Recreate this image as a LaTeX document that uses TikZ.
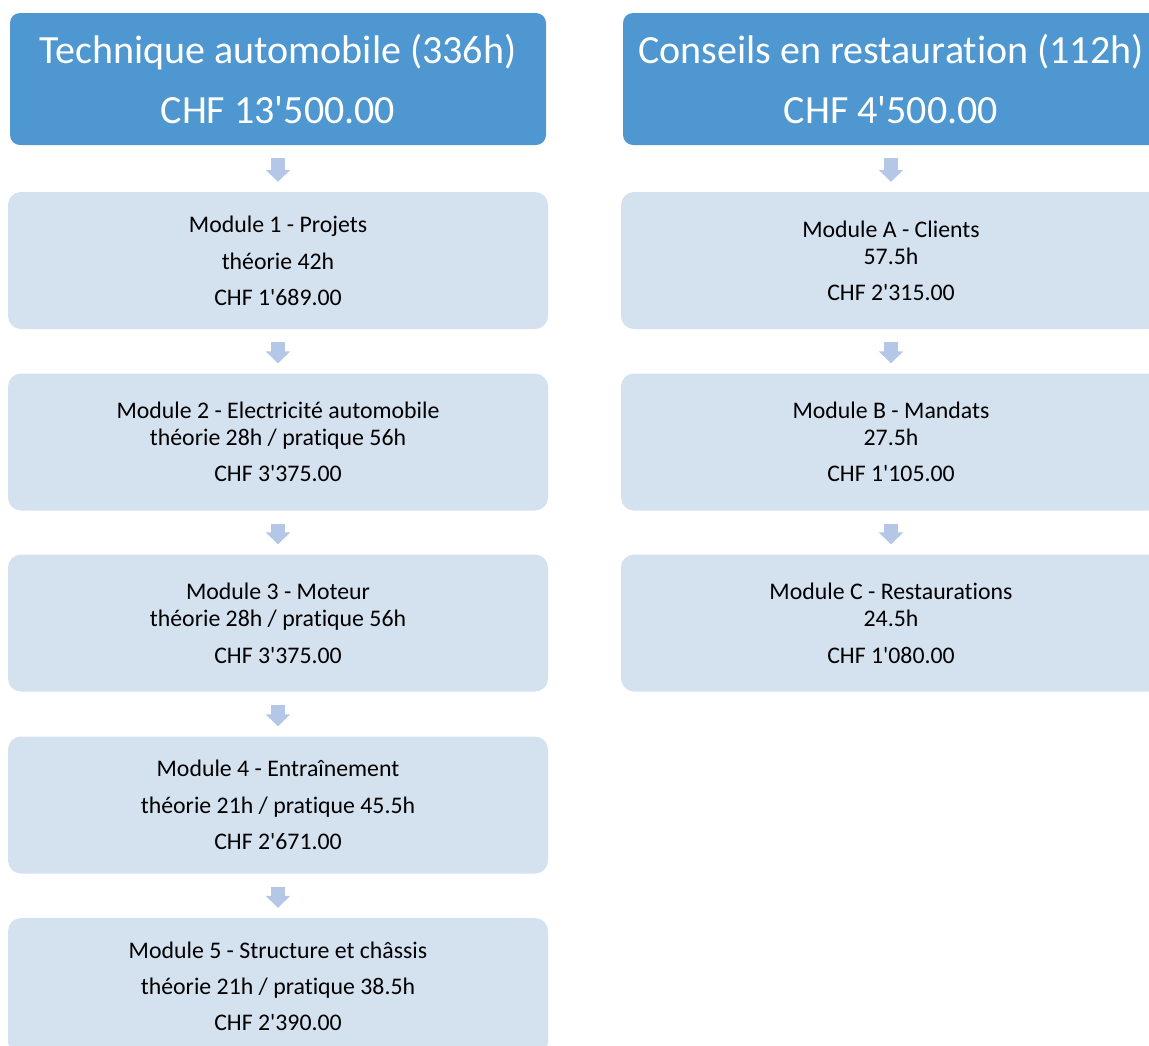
\documentclass[tikz,border=0pt]{standalone}
\usepackage{fontspec}
\setmainfont{Carlito}[Ligatures={TeXOff,NoCommon}]
\usetikzlibrary{arrows.meta}

\definecolor{hdrblue}{RGB}{79,151,208}
\definecolor{modfill}{RGB}{212,225,239}
\definecolor{arrowfill}{RGB}{180,199,230}

\tikzset{
	hdrbox/.style={fill=hdrblue, text=white, rounded corners=10pt,
		minimum width=536pt, minimum height=132pt, inner sep=0pt,
		align=center, font=\fontsize{40}{60}\selectfont},
	modbox/.style={fill=modfill, text=black, rounded corners=13pt,
		minimum width=540pt, minimum height=137pt, inner sep=0pt,
		align=center, font=\fontsize{23.8}{27}\selectfont},
	downarrow/.style={draw=arrowfill, line width=14pt,
		-{Triangle[width=24pt,length=12pt]}, shorten <=13pt, shorten >=10pt}
}

\begin{document}
\begin{tikzpicture}[x=1pt,y=-1pt]
		\useasboundingbox (0,0) rectangle (1149,1045);
		
		% en-tetes
		\node[hdrbox] (hdrAuto) at (278,79) {Technique automobile (336h)\\CHF 13'500.00};
		\node[hdrbox] (hdrResto) at (891,79) {Conseils en restauration (112h)\\CHF 4'500.00};
		
		% colonne gauche
		\node[modbox] (modProj) at (278,260.5) {Module 1 - Projets\\[10pt]théorie 42h\\[9pt]CHF 1'689.00};
		\node[modbox] (modElec) at (278,442) {Module 2 - Electricité automobile\\théorie 28h / pratique 56h\\[9pt]CHF 3'375.00};
		\node[modbox] (modMot) at (278,623) {Module 3 - Moteur\\théorie 28h / pratique 56h\\[10pt]CHF 3'375.00};
		\node[modbox] (modEntr) at (278,805) {Module 4 - Entraînement\\[10pt]théorie 21h / pratique 45.5h\\[9pt]CHF 2'671.00};
		\node[modbox] (modStruct) at (278,986.5) {Module 5 - Structure et châssis\\[9pt]théorie 21h / pratique 38.5h\\[9pt]CHF 2'390.00};
		
		% colonne droite
		\node[modbox] (modCli) at (891,260.5) {Module A - Clients\\57.5h\\[9pt]CHF 2'315.00};
		\node[modbox] (modMand) at (891,442) {Module B - Mandats\\27.5h\\[9pt]CHF 1'105.00};
		\node[modbox] (modRest) at (891,623) {Module C - Restaurations\\24.5h\\[10pt]CHF 1'080.00};
		
		\draw[downarrow] (hdrAuto) -- (modProj);
		\draw[downarrow] (modProj) -- (modElec);
		\draw[downarrow] (modElec) -- (modMot);
		\draw[downarrow] (modMot) -- (modEntr);
		\draw[downarrow] (modEntr) -- (modStruct);
		
		\draw[downarrow] (hdrResto) -- (modCli);
		\draw[downarrow] (modCli) -- (modMand);
		\draw[downarrow] (modMand) -- (modRest);
	\end{tikzpicture}
\end{document}
